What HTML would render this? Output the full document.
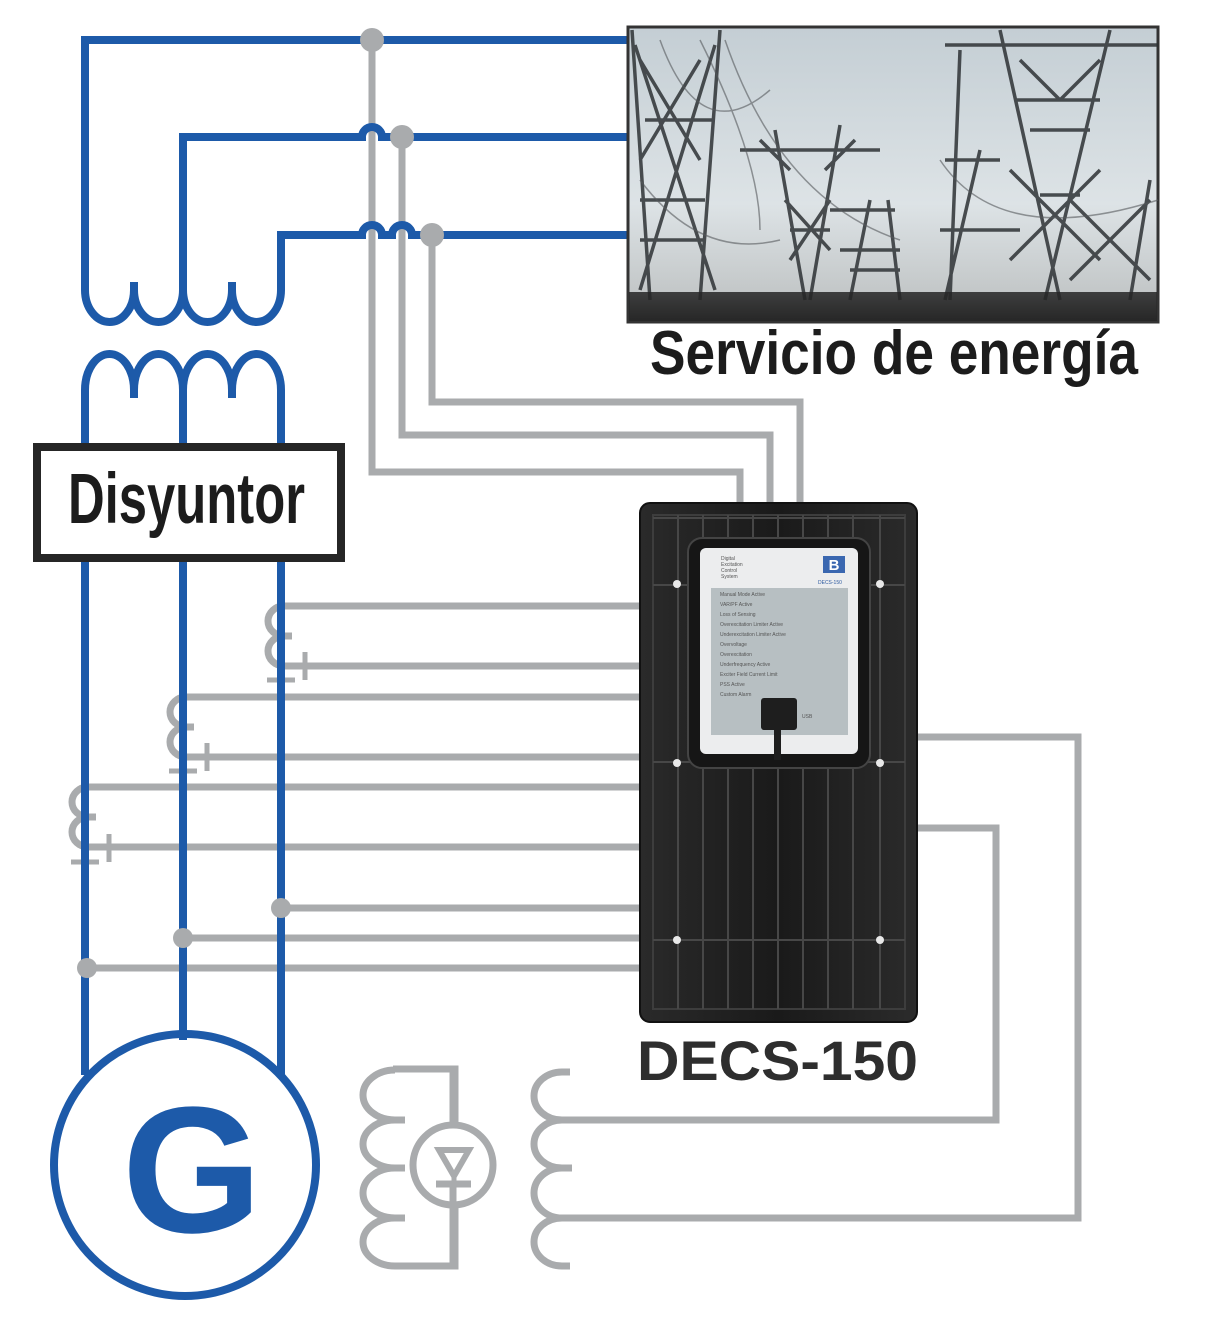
<!DOCTYPE html>
<html><head><meta charset="utf-8"><style>
html,body{margin:0;padding:0;background:#fff;}
svg{display:block;}
</style></head><body>
<svg width="1219" height="1323" viewBox="0 0 1219 1323" xmlns="http://www.w3.org/2000/svg">
<defs>
<linearGradient id="sky" x1="0" y1="0" x2="0" y2="1">
<stop offset="0" stop-color="#c4ced4"/><stop offset="0.6" stop-color="#dde3e6"/><stop offset="0.9" stop-color="#c3c7c8"/><stop offset="1" stop-color="#2a2a2a"/>
</linearGradient>
<linearGradient id="dev" x1="0" y1="0" x2="1" y2="0">
<stop offset="0" stop-color="#2a2a2a"/><stop offset="0.5" stop-color="#1a1a1a"/><stop offset="1" stop-color="#2b2b2b"/>
</linearGradient>
</defs>

<g fill="none" stroke="#a9abad" stroke-width="7">
<path d="M372,40 V472 H740 V505"/>
<path d="M402,137 V435 H770 V505"/>
<path d="M432,235 V402 H800 V505"/>
<path d="M284,606 H645"/><path d="M284,666 H645"/>
<path d="M186,697 H645"/><path d="M186,757 H645"/>
<path d="M88,787 H645"/><path d="M88,847 H645"/>
<path d="M281,908 H645"/><path d="M183,938 H645"/><path d="M87,968 H645"/>
<path d="M284,606 A16,15 0 0 0 284,636 L292,636 M284,636 A16,15 0 0 0 284,666"/>
<path d="M186,697 A16,15 0 0 0 186,727 L194,727 M186,727 A16,15 0 0 0 186,757"/>
<path d="M88,787 A16,15 0 0 0 88,817 L96,817 M88,817 A16,15 0 0 0 88,847"/>
<path d="M915,737 H1078 V1218 H570"/>
<path d="M915,828 H996 V1120 H570"/>
<path d="M395,1070 A32,25 0 0 0 395,1120 L405,1120 M395,1120 A32,24 0 0 0 395,1168 L405,1168 M395,1168 A32,25 0 0 0 395,1218 L405,1218 M395,1218 A32,24 0 0 0 395,1266 H455 V1069 H393"/>
<circle cx="453" cy="1165" r="40" fill="#fff"/>
<path d="M453,1184 V1266" />
<path d="M453,1069 V1126" />
<path d="M570,1072 H562 A28,24 0 0 0 562,1120 H572 M562,1120 A28,24 0 0 0 562,1168 H572 M562,1168 A28,25 0 0 0 562,1218 H572 M562,1218 A28,24 0 0 0 562,1266 H570"/>
</g>
<g stroke="#a9abad" stroke-width="5" fill="none">
<path d="M267,680 H295 M305,652 V680"/>
<path d="M169,771 H197 M207,743 V771"/>
<path d="M71,862 H99 M109,834 V862"/>
<path d="M439,1150 H469 L454,1176 Z" stroke-width="6"/>
<path d="M436,1184 H471" stroke-width="7"/>
<path d="M454,1176 V1186" stroke-width="5"/>
</g>

<g fill="none" stroke="#1d5aa9" stroke-width="8">
<path d="M628,40 H85 V290 A24.5,32 0 0 0 134,290 A24.5,32 0 0 0 183,290 A24.5,32 0 0 0 232,290 A24.5,32 0 0 0 281,290 V235 H362 A10,10 0 0 1 382,235 H392 A10,10 0 0 1 412,235 H628"/>
<path d="M183,290 V137 H362 A10,10 0 0 1 382,137 H628"/>
<path d="M134,290 V282 M232,290 V282"/>
<path d="M85,445 V390 A24.5,36 0 0 1 134,390 A24.5,36 0 0 1 183,390 A24.5,36 0 0 1 232,390 A24.5,36 0 0 1 281,390 V445"/>
<path d="M183,390 V445 M134,390 V398 M232,390 V398"/>
<path d="M85,560 V1075 M183,560 V1040 M281,560 V1075"/>
</g>
<circle cx="185" cy="1165" r="131" fill="none" stroke="#1d5aa9" stroke-width="8"/>
<text x="192" y="1232" font-family="Liberation Sans, sans-serif" font-weight="bold" font-size="180" fill="#1d5aa9" text-anchor="middle">G</text>

<g fill="#a9abad">
<circle cx="372" cy="40" r="12"/><circle cx="402" cy="137" r="12"/><circle cx="432" cy="235" r="12"/>
<circle cx="281" cy="908" r="10"/><circle cx="183" cy="938" r="10"/><circle cx="87" cy="968" r="10"/>
</g>

<rect x="37" y="447" width="304" height="111" fill="#fff" stroke="#262626" stroke-width="8"/>
<text x="68" y="523" font-family="Liberation Sans, sans-serif" font-weight="bold" font-size="71" fill="#1c1c1c" textLength="237" lengthAdjust="spacingAndGlyphs">Disyuntor</text>

<rect x="628" y="27" width="530" height="295" fill="url(#sky)" stroke="#333" stroke-width="3"/>
<g stroke="#2e3235" stroke-width="3.5" fill="none" opacity="0.85">
<path d="M632,30 L650,300 M720,30 L700,300 M645,120 L715,120 M640,200 L705,200 M635,45 L715,290 M715,45 L640,290 M640,240 L705,240 M700,60 L640,160 M640,60 L700,160"/>
<path d="M775,130 L805,300 M840,125 L810,300 M740,150 L880,150 M785,200 L830,250 M830,200 L790,260 M790,230 L830,230 M760,140 L790,170 M855,140 L825,170"/>
<path d="M870,200 L850,300 M888,200 L900,300 M830,210 L895,210 M840,250 L900,250 M850,270 L900,270"/>
<path d="M1000,30 L1060,300 M1110,30 L1045,300 M945,45 L1158,45 M1015,100 L1100,100 M1010,170 L1100,260 M1100,170 L1010,260 M1040,195 L1080,195 M1020,60 L1060,100 M1100,60 L1060,100 M1030,130 L1090,130"/>
<path d="M960,50 L950,300 M980,150 L945,300 M1150,180 L1130,300 M945,160 L1000,160 M940,230 L1020,230 M1070,200 L1150,280 M1150,200 L1070,280"/>
</g>
<g stroke="#55595c" stroke-width="1.5" fill="none" opacity="0.6">
<path d="M700,40 Q760,160 760,230 M725,40 Q780,200 900,240 M940,160 Q1000,250 1158,200 M640,180 Q700,260 780,240 M660,40 Q700,150 770,90"/>
</g>
<rect x="629" y="292" width="528" height="29" fill="#262626" opacity="0.85"/>
<text x="650" y="374" font-family="Liberation Sans, sans-serif" font-weight="bold" font-size="62" fill="#1c1c1c" textLength="488" lengthAdjust="spacingAndGlyphs">Servicio de energía</text>

<rect x="640" y="503" width="277" height="519" rx="10" fill="url(#dev)" stroke="#111" stroke-width="2"/>
<rect x="653" y="515" width="252" height="494" fill="none" stroke="#3d3d3d" stroke-width="2"/>
<g stroke="#474747" stroke-width="2">
<path d="M653,518 H905 M653,940 H905"/>
<path d="M678,515 V1009 M703,515 V545 M728,515 V545 M753,515 V545 M778,515 V545 M803,515 V545 M828,515 V545 M853,515 V545 M880,515 V1009"/>
<path d="M703,765 V1009 M728,765 V1009 M753,765 V1009 M778,765 V1009 M803,765 V1009 M828,765 V1009 M853,765 V1009"/>
<path d="M653,585 H690 M868,585 H905 M653,762 H690 M868,762 H905"/>
</g>
<rect x="688" y="538" width="182" height="230" rx="14" fill="#161616" stroke="#444" stroke-width="2"/>
<rect x="700" y="548" width="158" height="206" rx="6" fill="#ecedee"/>
<rect x="711" y="588" width="137" height="147" fill="#b7bfc2"/>
<g font-family="Liberation Sans, sans-serif" font-size="5" fill="#555">
<text x="721" y="560">Digital</text><text x="721" y="566">Excitation</text><text x="721" y="572">Control</text><text x="721" y="578">System</text>
<text x="818" y="584" fill="#2d5aa0">DECS-150</text>
<text x="720" y="596">Manual Mode Active</text><text x="720" y="606">VAR/PF Active</text><text x="720" y="616">Loss of Sensing</text>
<text x="720" y="626">Overexcitation Limiter Active</text><text x="720" y="636">Underexcitation Limiter Active</text>
<text x="720" y="646">Overvoltage</text><text x="720" y="656">Overexcitation</text><text x="720" y="666">Underfrequency Active</text>
<text x="720" y="676">Exciter Field Current Limit</text><text x="720" y="686">PSS Active</text><text x="720" y="696">Custom Alarm</text>
<text x="802" y="718">USB</text>
</g>
<rect x="823" y="556" width="22" height="17" fill="#3a67b0"/>
<text x="834" y="570" font-family="Liberation Sans, sans-serif" font-weight="bold" font-size="15" fill="#fff" text-anchor="middle">B</text>
<rect x="761" y="698" width="36" height="32" rx="3" fill="#1e1e1e"/>
<rect x="774" y="730" width="7" height="30" fill="#1e1e1e"/>
<g fill="#e8e8e8"><circle cx="677" cy="584" r="4"/><circle cx="880" cy="584" r="4"/><circle cx="677" cy="763" r="4"/><circle cx="880" cy="763" r="4"/><circle cx="677" cy="940" r="4"/><circle cx="880" cy="940" r="4"/></g>

<text x="637" y="1080" font-family="Liberation Sans, sans-serif" font-weight="bold" font-size="56" fill="#2e2e2e" textLength="281" lengthAdjust="spacingAndGlyphs">DECS-150</text>
</svg>
</body></html>
